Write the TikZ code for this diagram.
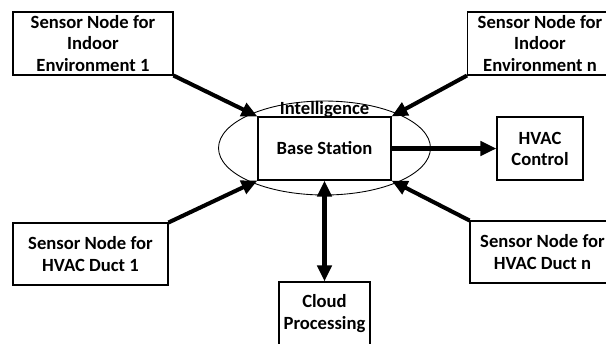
\documentclass[tikz,border=0pt]{standalone}
\usepackage{fontspec}
\setmainfont{Carlito}
\usetikzlibrary{arrows.meta, positioning, shapes}

\begin{document}
\begin{tikzpicture}[
        x=0.02cm, y=-0.02cm,
        box/.style={rectangle, draw, line width=0.6pt, align=center, inner sep=0pt,
            font=\bfseries\fontsize{10.6}{12}\selectfont},
        label/.style={inner sep=0pt, font=\bfseries\fontsize{10.6}{12}\selectfont},
        arrow/.style={-{Triangle[length=0.32cm, width=0.28cm]}, line width=2.3pt},
        biarrow/.style={{Triangle[length=0.32cm, width=0.28cm]}-{Triangle[length=0.32cm, width=0.28cm]}, line width=2.3pt}
    ]
        \useasboundingbox (0,0) rectangle (606,343);
        \clip (0,0) rectangle (606,343);

        % Base station inside the intelligence ellipse
        \node[ellipse, draw, line width=0.5pt, minimum width=4.24cm, minimum height=1.88cm] (intel) at (324.5,148) {};
        \node[box, minimum width=2.66cm, minimum height=1.26cm] (bs) at (324.5,148.5) {Base Station};
        \node[label] (intellbl) at (324.5,110) {Intelligence};

        % Indoor sensor nodes
        \node[box, minimum width=3.2cm, minimum height=1.26cm] (env1) at (93,43.5) {Sensor Node for\\Indoor\\Environment 1};
        \node[box, minimum width=2.9cm, minimum height=1.26cm] (envn) at (540,43.5) {Sensor Node for\\Indoor\\Environment n};

        % Duct sensor nodes
        \node[box, minimum width=3.1cm, minimum height=1.24cm] (duct1) at (90.5,254) {Sensor Node for\\HVAC Duct 1};
        \node[box, minimum width=2.9cm, minimum height=1.24cm] (ductn) at (542.5,252) {Sensor Node for\\HVAC Duct n};

        % Outputs
        \node[box, minimum width=1.72cm, minimum height=1.26cm] (hvac) at (540,148.5) {HVAC\\Control};
        \node[box, minimum width=1.82cm, minimum height=1.26cm] (cloud) at (324.5,313.5) {Cloud\\Processing};

        \draw[arrow] (env1.south east) -- (bs.north west);
        \draw[arrow] (envn.south west) -- (bs.north east);
        \draw[arrow] (duct1.north east) -- (bs.south west);
        \draw[arrow] (ductn.north west) -- (bs.south east);
        \draw[arrow] (bs.east) -- (hvac.west);
        \draw[biarrow] (bs.south) -- (cloud.north);
    \end{tikzpicture}
\end{document}
